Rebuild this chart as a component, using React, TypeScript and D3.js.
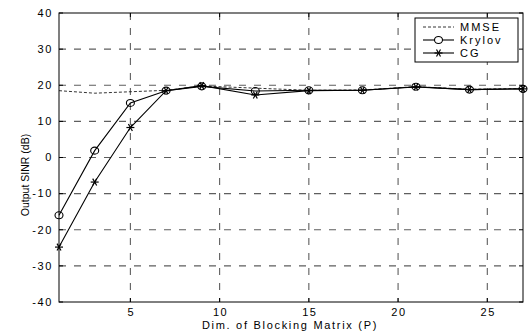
import * as d3 from 'd3';

const pValues = [1, 3, 5, 7, 9, 12, 15, 18, 21, 24, 27];
const mmse = [18.5, 17.8, 18.2, 18.6, 19.8, 19.2, 18.6, 18.7, 19.6, 18.9, 19.1];
const krylov = [-16, 1.9, 15.1, 18.5, 19.7, 18.4, 18.6, 18.6, 19.6, 18.8, 19.0];
const cg = [-24.8, -6.8, 8.3, 18.5, 19.9, 17.3, 18.5, 18.6, 19.5, 18.8, 19.0];
const xTicks = [5, 10, 15, 20, 25];
const yTicks = [-40, -30, -20, -10, 0, 10, 20, 30, 40];
const legendLabels = ['MMSE', 'Krylov', 'CG'];

const W = 528;
const H = 334;
const left = 59;
const right = 523;
const top = 13;
const bottom = 302;
const font = 'Liberation Sans, Arial, sans-serif';

const Star = ({ x, y, s = 4 }: { x: number; y: number; s?: number }) => {
  const d = s * 0.866;
  return (
    <g stroke="#000" strokeWidth={1.2}>
      <line x1={x - s} y1={y} x2={x + s} y2={y} />
      <line x1={x - s / 2} y1={y - d} x2={x + s / 2} y2={y + d} />
      <line x1={x - s / 2} y1={y + d} x2={x + s / 2} y2={y - d} />
    </g>
  );
};

export default function App() {
  const x = d3.scaleLinear().domain([1, 27]).range([left, right]);
  const y = d3.scaleLinear().domain([-40, 40]).range([bottom, top]);

  const line = d3
    .line<number>()
    .x((_, i) => x(pValues[i]))
    .y((d) => y(d));

  const gridColor = '#5e5e5e';
  const tick = 4;

  return (
    <svg
      width={W}
      height={H}
      style={{ position: 'absolute', left: 0, top: 0, background: '#fff' }}
      fontFamily={font}
    >
      <rect x={0} y={0} width={W} height={H} fill="#fff" />
      {/* grid */}
      {yTicks
        .filter((t) => t > -40 && t < 40)
        .map((t) => (
          <line
            key={'gy' + t}
            x1={left}
            x2={right}
            y1={y(t)}
            y2={y(t)}
            stroke={gridColor}
            strokeWidth={1.1}
            strokeDasharray="7,8"
          />
        ))}
      {xTicks.map((t) => (
        <line
          key={'gx' + t}
          x1={x(t)}
          x2={x(t)}
          y1={top}
          y2={bottom}
          stroke={gridColor}
          strokeWidth={1.1}
          strokeDasharray="7,8"
        />
      ))}

      {/* axes box */}
      <rect x={left} y={top} width={right - left} height={bottom - top} fill="none" stroke="#000" />
      {yTicks.map((t) => (
        <g key={'ty' + t}>
          <line x1={left} x2={left + tick} y1={y(t)} y2={y(t)} stroke="#000" />
          <line x1={right} x2={right - tick} y1={y(t)} y2={y(t)} stroke="#000" />
          <text
            x={left - 6}
            y={y(t)}
            dy="0.35em"
            textAnchor="end"
            fontSize={11}
            letterSpacing={1.6}
          >
            {t}
          </text>
        </g>
      ))}
      {xTicks.map((t) => (
        <g key={'tx' + t}>
          <line x1={x(t)} x2={x(t)} y1={bottom} y2={bottom - tick} stroke="#000" />
          <line x1={x(t)} x2={x(t)} y1={top} y2={top + tick} stroke="#000" />
          <text x={x(t) + 1} y={bottom + 14} textAnchor="middle" fontSize={11} letterSpacing={1.6}>
            {t}
          </text>
        </g>
      ))}

      <text x={290} y={329} textAnchor="middle" fontSize={11} letterSpacing={1.7}>
        Dim. of Blocking Matrix (P)
      </text>
      <text transform={`translate(29,175) rotate(-90)`} textAnchor="middle" fontSize={10.5}>
        Output SINR (dB)
      </text>

      {/* series */}
      <path d={line(mmse) || ''} fill="none" stroke="#000" strokeWidth={0.8} strokeDasharray="3,2" />
      <path d={line(krylov) || ''} fill="none" stroke="#000" strokeWidth={1.1} />
      <path d={line(cg) || ''} fill="none" stroke="#000" strokeWidth={1.1} />
      {krylov.map((v, i) => (
        <ellipse
          key={'k' + i}
          cx={x(pValues[i])}
          cy={y(v)}
          rx={4}
          ry={3.5}
          fill="none"
          stroke="#000"
          strokeWidth={1.1}
        />
      ))}
      {cg.map((v, i) => (
        <Star key={'c' + i} x={x(pValues[i])} y={y(v)} />
      ))}

      {/* legend */}
      <g>
        <rect x={415} y={18} width={103} height={44} fill="#fff" stroke="#000" />
        {legendLabels.map((lab, i) => {
          const ly = 27 + i * 13;
          return (
            <g key={lab}>
              <line
                x1={423}
                x2={454}
                y1={ly}
                y2={ly}
                stroke="#000"
                strokeWidth={i === 0 ? 0.8 : 1.1}
                strokeDasharray={i === 0 ? '3,2' : undefined}
              />
              {i === 1 && (
                <ellipse cx={438.5} cy={ly} rx={4} ry={3.5} fill="#fff" stroke="#000" strokeWidth={1.1} />
              )}
              {i === 2 && <Star x={438.5} y={ly} />}
              <text x={460} y={ly} dy="0.35em" fontSize={11} letterSpacing={2}>
                {lab}
              </text>
            </g>
          );
        })}
      </g>
    </svg>
  );
}
